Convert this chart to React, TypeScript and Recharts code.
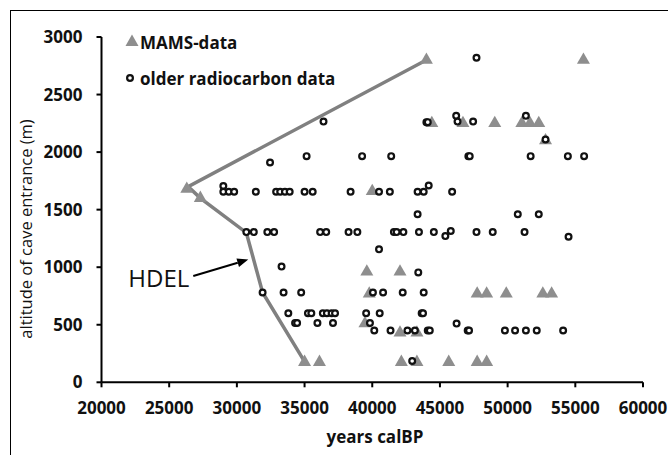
import React from 'react';
import { ScatterChart, Scatter, XAxis, YAxis, Legend, ReferenceLine } from 'recharts';

const xTicks = [20000, 25000, 30000, 35000, 40000, 45000, 50000, 55000, 60000];
const yTicks = [0, 500, 1000, 1500, 2000, 2500, 3000];

// MAMS-data (triangles)
const mamsYears = [
  44000, 55600,
  44400, 46700, 49050, 51050, 51650, 52300,
  52800,
  26300, 27300, 40000,
  39600, 42050,
  39780, 47750, 48450, 49900, 52600, 53250,
  39460,
  42050, 43300,
  35000, 36100, 42150, 43300, 45650, 47750, 48450,
];
const mamsAlt = [
  2800, 2800,
  2250, 2250, 2250, 2250, 2250, 2250,
  2100,
  1680, 1600, 1660,
  960, 960,
  770, 770, 770, 770, 770, 770,
  510,
  430, 430,
  175, 175, 175, 175, 175, 175, 175,
];

// older radiocarbon data (circles)
const oldYears = [
  47700,
  36400, 44000, 44100, 46200, 46300, 47450, 51350,
  52800,
  35150, 39250, 41400, 47100, 47200, 51700, 54450, 55650,
  32450,
  29000, 29000, 29400, 29800, 31400, 32900, 33200, 33550, 33900, 35000, 35600, 38400, 40500, 41300, 43350, 43800, 44170, 45900,
  43350, 50750, 52300,
  30700, 31250, 32250, 32750, 36150, 36600, 38250, 38900, 41600, 41800, 42300, 43450, 44550, 45400, 45800, 47700, 48900, 51250, 54500,
  40500,
  33300, 43400,
  31900, 33450, 34750, 40050, 40800, 42250, 43800,
  33800, 35250, 35500, 36350, 36650, 37000, 37250, 39550, 40550, 43650, 43750,
  34300, 34450, 35950, 37100, 39830, 46230,
  40150, 41350, 42600, 43150, 44100, 44250, 47050, 47150, 49800, 50550, 51350, 52150, 54100,
  42950,
];
const oldAlt = [
  2820,
  2265, 2260, 2260, 2315, 2265, 2265, 2315,
  2110,
  1965, 1965, 1965, 1965, 1965, 1965, 1965, 1965,
  1910,
  1705, 1655, 1655, 1655, 1655, 1655, 1655, 1655, 1655, 1655, 1655, 1655, 1655, 1655, 1655, 1655, 1710, 1655,
  1460, 1460, 1460,
  1305, 1305, 1305, 1305, 1305, 1305, 1305, 1305, 1305, 1305, 1305, 1305, 1305, 1270, 1315, 1305, 1305, 1305, 1265,
  1155,
  1005, 955,
  780, 780, 780, 780, 780, 780, 780,
  600, 600, 600, 600, 600, 600, 600, 600, 600, 600, 600,
  515, 515, 515, 515, 515, 510,
  450, 450, 450, 450, 450, 450, 450, 450, 450, 450, 450, 450, 450,
  185,
];

// HDEL line
const hdelYears = [44000, 26400, 27300, 30700, 31900, 35000];
const hdelAlt = [2800, 1700, 1600, 1300, 780, 180];

const zip = (xs: number[], ys: number[]) => xs.map((x, i) => ({ x, y: ys[i] }));

const mams = zip(mamsYears, mamsAlt);
const older = zip(oldYears, oldAlt);
const hdel = zip(hdelYears, hdelAlt);

const FONT = '"Open Sans", sans-serif';
const INK = '#111';
const GREY = '#8e8e8e';

const Triangle = (p: any) => {
  const { cx, cy } = p;
  const s = 13;
  const h = 11.3;
  return (
    <polygon
      points={`${cx},${cy - (2 * h) / 3} ${cx - s / 2},${cy + h / 3} ${cx + s / 2},${cy + h / 3}`}
      fill={GREY}
    />
  );
};

const Ring = (p: any) => (
  <circle cx={p.cx} cy={p.cy} r={2.9} fill="#fff" stroke="#111" strokeWidth={2.2} />
);

const NoMark = () => <g />;

const HdelArrow = (p: any) => {
  const { x1, y1, x2, y2 } = p;
  const a = Math.atan2(y2 - y1, x2 - x1);
  const L = 11;
  const W = 4.5;
  const bx = x2 - L * Math.cos(a);
  const by = y2 - L * Math.sin(a);
  const head = `${x2},${y2} ${bx - W * Math.sin(a)},${by + W * Math.cos(a)} ${bx + W * Math.sin(a)},${by - W * Math.cos(a)}`;
  return (
    <g>
      <line x1={x1} y1={y1} x2={bx} y2={by} stroke="#000" strokeWidth={2} />
      <polygon points={head} fill="#000" />
      <text x={x1 - 4} y={y1 + 11} textAnchor="end" fontFamily={FONT} fontWeight={500} fontSize={24} fill={INK}>
        HDEL
      </text>
    </g>
  );
};

const LegendBox = () => (
  <div style={{ fontFamily: FONT, fontWeight: 700, fontSize: 17, color: INK }}>
    <div style={{ display: 'flex', alignItems: 'center', height: 36 }}>
      <svg width={16} height={16}>
        <polygon points="8,0.5 1.5,12 14.5,12" fill={GREY} />
      </svg>
      <span style={{ marginLeft: 0 }}>MAMS-data</span>
    </div>
    <div style={{ display: 'flex', alignItems: 'center', height: 36 }}>
      <svg width={16} height={16}>
        <circle cx={6} cy={8} r={2.9} fill="#fff" stroke="#111" strokeWidth={2.2} />
      </svg>
      <span style={{ marginLeft: 0 }}>older radiocarbon data</span>
    </div>
  </div>
);

const tickStyle = { fill: INK, fontSize: 17, fontFamily: FONT, fontWeight: 700 };

export default function App() {
  return (
    <div style={{ position: 'absolute', left: 0, top: 0, width: 668, height: 455, overflow: 'hidden', background: '#fff' }}>
      <div
        style={{
          position: 'absolute',
          left: 10,
          top: 10,
          width: 700,
          height: 500,
          border: '1.5px solid #000',
          boxSizing: 'border-box',
        }}
      />
      <div style={{ position: 'absolute', left: 0, top: 0 }}>
        <ScatterChart width={668} height={455} margin={{ top: 37, right: 25, bottom: 0, left: 0 }}>
          <XAxis
            type="number"
            dataKey="x"
            domain={[20000, 60000]}
            ticks={xTicks}
            interval={0}
            height={72.7}
            tick={tickStyle}
            tickSize={5}
            tickMargin={15}
            axisLine={{ stroke: '#000', strokeWidth: 2 }}
            tickLine={{ stroke: '#000', strokeWidth: 2 }}
            label={{
              content: () => (
                <text x={375} y={443} textAnchor="middle" fontFamily={FONT} fontWeight={700} fontSize={17} fill={INK}>
                  years calBP
                </text>
              ),
            }}
          />
          <YAxis
            type="number"
            dataKey="y"
            domain={[0, 3000]}
            ticks={yTicks}
            interval={0}
            width={101.5}
            tick={tickStyle}
            tickSize={5}
            tickMargin={14}
            axisLine={{ stroke: '#000', strokeWidth: 2 }}
            tickLine={{ stroke: '#000', strokeWidth: 2 }}
            label={{
              content: () => (
                <text
                  x={25}
                  y={229}
                  transform="rotate(-90 25 229)"
                  textAnchor="middle"
                  dominantBaseline="central"
                  fontFamily={FONT}
                  fontWeight={500}
                  fontSize={16.5}
                  fill={INK}
                >
                  altitude of cave entrance (m)
                </text>
              ),
            }}
          />
          <Legend
            layout="vertical"
            align="center"
            verticalAlign="middle"
            wrapperStyle={{ left: 124, top: 24, width: 'auto' }}
            content={() => <LegendBox />}
          />
          <Scatter
            name="HDEL"
            data={hdel}
            fill="#808080"
            line={{ stroke: '#808080', strokeWidth: 3.5 }}
            lineType="joint"
            shape={NoMark}
            isAnimationActive={false}
            legendType="none"
          />
          <Scatter name="MAMS-data" data={mams} fill={GREY} shape={Triangle} isAnimationActive={false} />
          <Scatter name="older radiocarbon data" data={older} fill="#fff" shape={Ring} isAnimationActive={false} />
          <ReferenceLine
            segment={[
              { x: 26780, y: 924 },
              { x: 30842, y: 1066 },
            ]}
            ifOverflow="visible"
            shape={HdelArrow}
          />
        </ScatterChart>
      </div>
    </div>
  );
}
